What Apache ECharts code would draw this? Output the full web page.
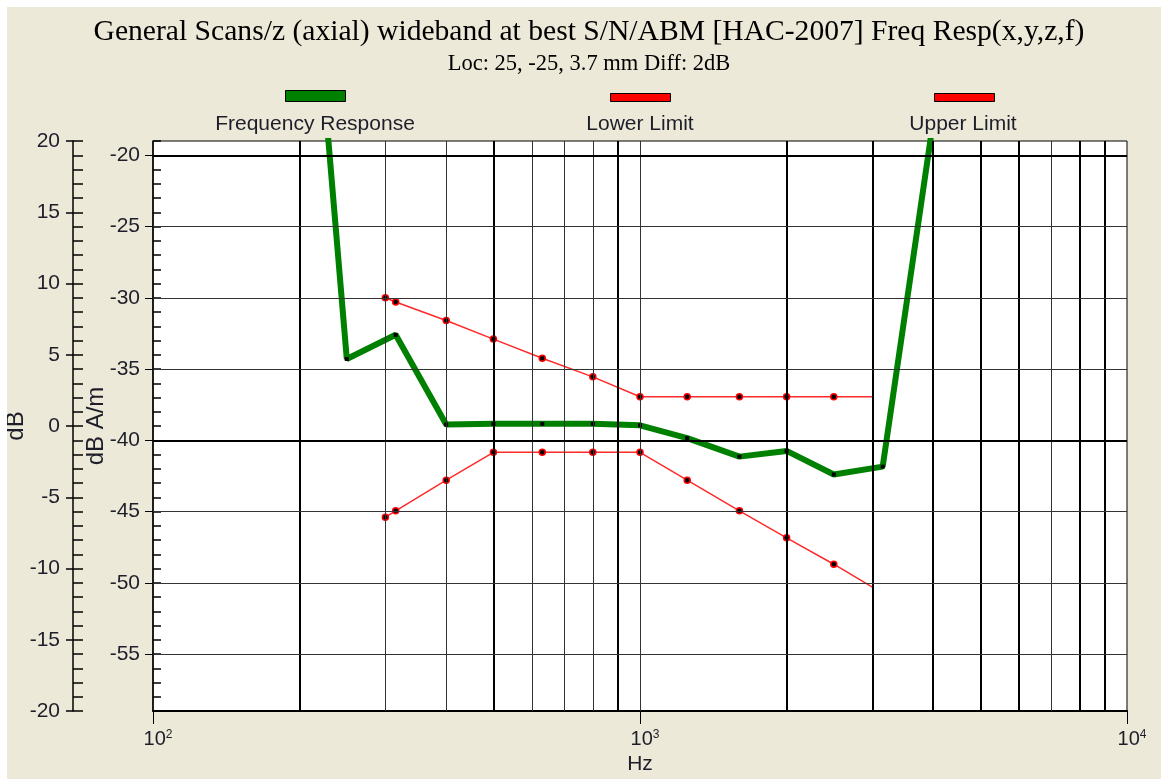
<!DOCTYPE html>
<html><head><meta charset="utf-8">
<script src="https://cdn.jsdelivr.net/npm/echarts@6/dist/echarts.min.js"></script>
<style>
html,body{margin:0;padding:0;background:#fff;}
#chart{position:absolute;left:7px;top:7px;width:1154px;height:772px;}
</style></head><body><div id="chart"></div>
<script>
// ---- data ----
const titleText = 'General Scans/z (axial) wideband at best S/N/ABM [HAC-2007] Freq Resp(x,y,z,f)';
const subtitleText = 'Loc: 25, -25, 3.7 mm Diff: 2dB';
const seriesNames = ['Frequency Response', 'Lower Limit', 'Upper Limit'];

const responseFreqHz = [200, 250, 315, 400, 500, 630, 800, 1000, 1250, 1600, 2000, 2500, 3150, 4000];
const responseDbAm   = [5.0, -34.3, -32.6, -38.9, -38.85, -38.85, -38.85, -38.95, -39.85, -41.15, -40.75, -42.4, -41.85, -17.6];

const limitFreqHz  = [300, 315, 400, 500, 630, 800, 1000, 1250, 1600, 2000, 2500, 3000];
const lowerLimitDbAm = [-45.4, -44.95, -42.8, -40.85, -40.85, -40.85, -40.85, -42.8, -44.95, -46.85, -48.7, -50.3];
const upperLimitDbAm = [-30.0, -30.3, -31.6, -32.9, -34.25, -35.55, -36.95, -36.95, -36.95, -36.95, -36.95, -36.95];

const dbAmTickLabels = [-55, -50, -45, -40, -35, -30, -25, -20];
const dbAxisMin = -20, dbAxisMax = 20;
const dbAmAxisMin = -59, dbAmAxisMax = -19;
const freqMin = 100, freqMax = 10000;
const gridFreqHz = [200, 300, 400, 500, 600, 700, 800, 900, 1000, 2000, 3000, 4000, 5000, 6000, 7000, 8000, 9000];

// ---- styling ----
const boldFreq = new Set([200, 500, 900, 2000, 3000, 4000, 5000, 6000, 8000, 9000]);
const boldLevel = new Set([-40, -20]);
const SANS = 'Liberation Sans';
const SERIF = 'Liberation Serif';
const TXT = '#1e1e2a';

function pairs(xs, ys, noLastSymbol) {
  return xs.map((x, i) => {
    const item = { value: [x, ys[i]] };
    if (noLastSymbol && i === xs.length - 1) item.symbol = 'none';
    return item;
  });
}

const gridLines = [];
gridFreqHz.forEach(f => gridLines.push({ xAxis: f, lineStyle: { color: boldFreq.has(f) ? '#000' : '#333', width: boldFreq.has(f) ? 2 : 1, type: 'solid' } }));
dbAmTickLabels.forEach(v => gridLines.push({ yAxis: v, lineStyle: { color: boldLevel.has(v) ? '#000' : '#333', width: boldLevel.has(v) ? 2 : 1, type: 'solid' } }));

const chart = echarts.init(document.getElementById('chart'));
const legendBase = { padding: 0, selectedMode: false, formatter: () => '', textStyle: { fontSize: 1 }, itemWidth: 60 };

const option = {
  animation: false,
  backgroundColor: '#ECE9D8',
  title: [
    { text: titleText, left: 582, top: 10, textAlign: 'center', padding: 0,
      textStyle: { fontFamily: SERIF, fontSize: 29.6, fontWeight: 'normal', color: '#000' } },
    { text: subtitleText, left: 582, top: 46, textAlign: 'center', padding: 0,
      textStyle: { fontFamily: SERIF, fontSize: 22.5, fontWeight: 'normal', color: '#000' } }
  ],
  legend: [
    Object.assign({}, legendBase, { left: 278, top: 83, itemHeight: 11,
      data: [{ name: seriesNames[0], icon: 'rect', itemStyle: { color: '#008000', borderColor: '#000', borderWidth: 1 } }] }),
    Object.assign({}, legendBase, { left: 603, top: 86, itemHeight: 8,
      data: [{ name: seriesNames[1], icon: 'rect', itemStyle: { color: '#ff0000', borderColor: '#000', borderWidth: 1 } }] }),
    Object.assign({}, legendBase, { left: 927, top: 86, itemHeight: 8,
      data: [{ name: seriesNames[2], icon: 'rect', itemStyle: { color: '#ff0000', borderColor: '#000', borderWidth: 1 } }] })
  ],
  graphic: [
    { type: 'text', x: 308, y: 117, style: { text: seriesNames[0], fontSize: 21, fontFamily: SANS, fill: TXT, align: 'center', verticalAlign: 'middle' } },
    { type: 'text', x: 633, y: 117, style: { text: seriesNames[1], fontSize: 21, fontFamily: SANS, fill: TXT, align: 'center', verticalAlign: 'middle' } },
    { type: 'text', x: 956, y: 117, style: { text: seriesNames[2], fontSize: 21, fontFamily: SANS, fill: TXT, align: 'center', verticalAlign: 'middle' } }
  ],
  grid: { left: 146, top: 134, right: 34, bottom: 68, show: true, backgroundColor: '#fff',
          borderColor: '#000', borderWidth: 1, containLabel: false, outerBoundsMode: 'none' },
  xAxis: {
    type: 'log', logBase: 10, min: freqMin, max: freqMax,
    name: 'Hz', nameLocation: 'middle', nameGap: 43, nameMoveOverlap: false,
    nameTextStyle: { fontFamily: SANS, fontSize: 21, color: TXT },
    axisLine: { onZero: false, lineStyle: { color: '#000', width: 2 } },
    axisTick: { length: 13, lineStyle: { color: '#000', width: 1 } },
    axisLabel: {
      margin: 18,
      formatter: v => '{b|10}{s|' + Math.round(Math.log10(v)) + '}',
      rich: {
        b: { fontFamily: SANS, fontSize: 20, color: TXT, padding: [0, 0, 0, 10] },
        s: { fontFamily: SANS, fontSize: 12, color: TXT, verticalAlign: 'top' }
      }
    },
    splitLine: { show: false }, minorTick: { show: false }
  },
  yAxis: [
    { type: 'value', position: 'left', min: dbAmAxisMin, max: dbAmAxisMax,
      name: 'dB A/m', nameLocation: 'middle', nameGap: 45, nameMoveOverlap: false,
      nameTextStyle: { fontFamily: SANS, fontSize: 24, color: TXT },
      axisLine: { show: true, onZero: false, lineStyle: { color: '#000', width: 1.5 } },
      axisTick: { show: true, customValues: dbAmTickLabels, length: 8, inside: false, lineStyle: { color: '#000', width: 1 } },
      axisLabel: { customValues: dbAmTickLabels, margin: 13, fontFamily: SANS, fontSize: 21, color: TXT },
      splitLine: { show: false } },
    { type: 'value', position: 'left', min: dbAmAxisMin, max: dbAmAxisMax, interval: 1,
      axisLine: { show: false }, axisLabel: { show: false }, splitLine: { show: false },
      axisTick: { show: true, inside: true, length: 8, lineStyle: { color: '#000', width: 1.5 } } },
    { type: 'value', position: 'left', offset: 80, min: dbAxisMin, max: dbAxisMax, interval: 5,
      name: 'dB', nameLocation: 'middle', nameGap: 45, nameMoveOverlap: false,
      nameTextStyle: { fontFamily: SANS, fontSize: 24, color: TXT },
      axisLine: { show: true, onZero: false, lineStyle: { color: '#000', width: 1.5 } },
      axisTick: { show: true, length: 7, lineStyle: { color: '#000', width: 1.5 } },
      axisLabel: { margin: 13, fontFamily: SANS, fontSize: 21, color: TXT },
      splitLine: { show: false } },
    { type: 'value', position: 'left', offset: 80, min: dbAxisMin, max: dbAxisMax, interval: 1,
      axisLine: { show: false }, axisLabel: { show: false }, splitLine: { show: false },
      axisTick: { show: true, inside: true, length: 10, lineStyle: { color: '#000', width: 1.5 } } }
  ],
  series: [
    { name: '_grid', type: 'line', data: [], z: 1, silent: true,
      markLine: { silent: true, symbol: ['none', 'none'], label: { show: false }, animation: false,
                  emphasis: { disabled: true }, data: gridLines } },
    { name: seriesNames[1], type: 'line', z: 3, data: pairs(limitFreqHz, lowerLimitDbAm, true),
      symbol: 'circle', symbolSize: 6, showSymbol: true,
      lineStyle: { color: '#ff2a2a', width: 1.5 },
      itemStyle: { color: '#000', borderColor: '#ff0000', borderWidth: 1.5 } },
    { name: seriesNames[2], type: 'line', z: 3, data: pairs(limitFreqHz, upperLimitDbAm, true),
      symbol: 'circle', symbolSize: 6, showSymbol: true,
      lineStyle: { color: '#ff2a2a', width: 1.5 },
      itemStyle: { color: '#000', borderColor: '#ff0000', borderWidth: 1.5 } },
    { name: seriesNames[0], type: 'line', z: 4, data: pairs(responseFreqHz, responseDbAm, false),
      symbol: 'rect', symbolSize: 4, showSymbol: true, clip: true,
      lineStyle: { color: '#008000', width: 6 },
      itemStyle: { color: '#000' } }
  ]
};
chart.setOption(option);
</script></body></html>
